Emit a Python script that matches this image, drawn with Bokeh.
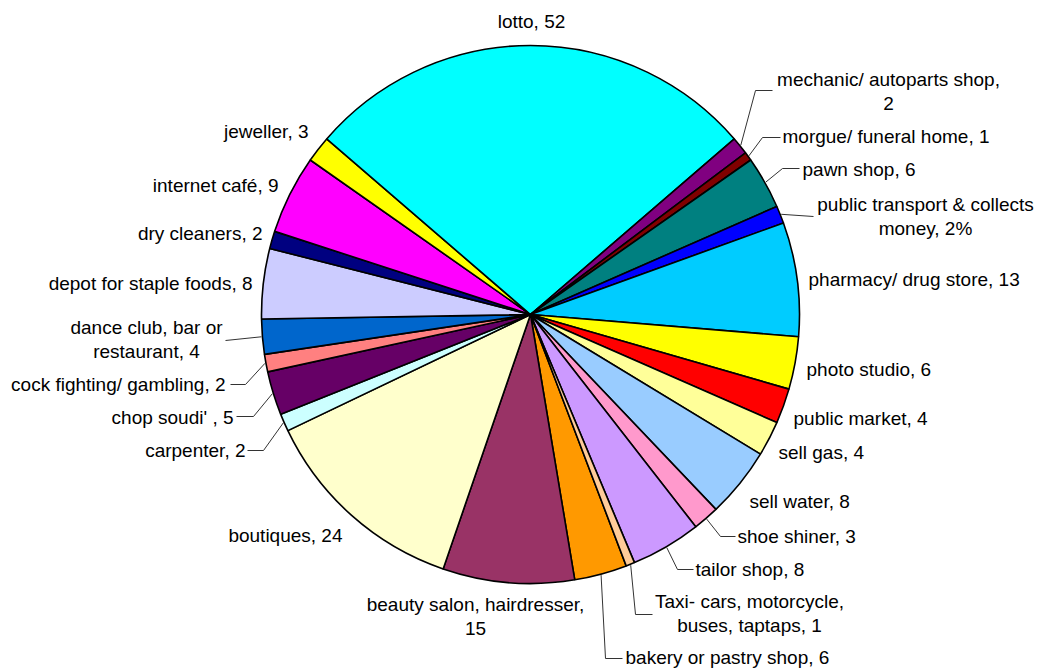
import math
from bokeh.plotting import figure
from bokeh.models import Range1d, ColumnDataSource
from bokeh.core.properties import value
from bokeh.embed import file_html
from bokeh.resources import INLINE

# ---------------- data ----------------
categories = [
    "bakery or pastry shop", "beauty salon, hairdresser", "boutiques", "carpenter",
    "chop soudi' ", "cock fighting/ gambling", "dance club, bar or restaurant",
    "depot for staple foods", "dry cleaners", "internet café", "jeweller", "lotto",
    "mechanic/ autoparts shop", "morgue/ funeral home", "pawn shop",
    "public transport & collects money", "pharmacy/ drug store", "photo studio",
    "public market", "sell gas", "sell water", "shoe shiner", "tailor shop",
    "Taxi- cars, motorcycle, buses, taptaps",
]
values = [6, 15, 24, 2, 5, 2, 4, 8, 2, 9, 3, 52, 2, 1, 6, 2, 13, 6, 4, 4, 8, 3, 8, 1]
value_suffix = {"public transport & collects money": "%"}
colors = [
    "#FF9900", "#993366", "#FFFFCC", "#CCFFFF", "#660066", "#FF8080", "#0066CC",
    "#CCCCFF", "#000080", "#FF00FF", "#FFFF00", "#00FFFF", "#800080", "#800000",
    "#008080", "#0000FF", "#00CCFF", "#FFFF00", "#FF0000", "#FFFF99", "#99CCFF",
    "#FF99CC", "#CC99FF", "#FFCC99",
]

# ---------------- layout (pixel coordinates, y downward) ----------------
W, H = 1038, 671
CX, CY, R = 530, 314, 269
FIRST_SLICE_ANGLE = 159.16   # degrees clockwise from 12 o'clock
FONT = "Liberation Sans"
FS = "19px"
LINE_GAP = 23.5

# category -> (align, x, y_center, words on first line (0 = single line), leader points)
label_layout = {
    "lotto": ("center", 531, 21, 0, None),
    "mechanic/ autoparts shop": ("center", 888, 91, 3, [(755, 90), (772, 90)]),
    "morgue/ funeral home": ("left", 782, 136, 0, [(762, 137), (780, 137)]),
    "pawn shop": ("left", 802, 169, 0, [(782, 168), (799, 168)]),
    "public transport & collects money": ("center", 925, 216, 4, [(813, 216)]),
    "pharmacy/ drug store": ("left", 808, 279, 0, None),
    "photo studio": ("left", 806, 369, 0, None),
    "public market": ("left", 793, 418, 0, None),
    "sell gas": ("left", 778, 452, 0, None),
    "sell water": ("left", 749, 501, 0, None),
    "shoe shiner": ("left", 737, 536, 0, [(720, 536), (735, 536)]),
    "tailor shop": ("left", 695, 569, 0, [(677, 569), (693, 569)]),
    "Taxi- cars, motorcycle, buses, taptaps": ("center", 749, 613, 3, [(635, 614), (652, 614)]),
    "bakery or pastry shop": ("left", 625, 657, 0, [(605, 658), (622, 658)]),
    "beauty salon, hairdresser": ("center", 475, 616, 3, None),
    "boutiques": ("right", 342, 535, 0, None),
    "carpenter": ("right", 245, 450, 0, [(263, 450), (247, 450)]),
    "chop soudi' ": ("right", 233, 417, 0, [(253, 416), (236, 416)]),
    "cock fighting/ gambling": ("right", 225, 384, 0, [(245, 384), (230, 384)]),
    "dance club, bar or restaurant": ("center", 146, 339, 4, [(225, 340)]),
    "depot for staple foods": ("right", 252, 283, 0, None),
    "dry cleaners": ("right", 262, 233, 0, None),
    "internet café": ("right", 278, 185, 0, None),
    "jeweller": ("right", 308, 131, 0, None),
}


def Y(py):
    return H - py


total = float(sum(values))
starts, ends, mids = [], [], []
acc = FIRST_SLICE_ANGLE
for v in values:
    a0 = acc
    a1 = acc + v / total * 360.0
    starts.append(a0)
    ends.append(a1)
    mids.append((a0 + a1) / 2)
    acc = a1

# convert clockwise-from-top to bokeh (anticlockwise from +x) angles
wedge_start = [math.radians(90 - e) for e in ends]
wedge_end = [math.radians(90 - s) for s in starts]

p = figure(width=W, height=H, x_range=Range1d(0, W), y_range=Range1d(0, H),
           output_backend="svg", toolbar_location=None, min_border=0,
           outline_line_color=None, background_fill_color="white",
           border_fill_color="white")
p.axis.visible = False
p.grid.visible = False

src = ColumnDataSource(dict(cat=categories, val=values, color=colors,
                            sa=wedge_start, ea=wedge_end))
p.wedge(x=CX, y=Y(CY), radius=R, start_angle="sa", end_angle="ea",
        fill_color="color", line_color="black", line_width=1.6, source=src)

# labels and leader lines
groups = {"left": dict(x=[], y=[], t=[]), "right": dict(x=[], y=[], t=[]),
          "center": dict(x=[], y=[], t=[])}
lx, ly = [], []
for cat, v, m in zip(categories, values, mids):
    align, x, yc, nfirst, leader = label_layout[cat]
    text = f"{cat}, {v}{value_suffix.get(cat, '')}".replace("  ", " ")
    if cat == "chop soudi' ":
        text = f"{cat}, {v}"
    if nfirst:
        words = text.split(" ")
        lines = [" ".join(words[:nfirst]), " ".join(words[nfirst:])]
    else:
        lines = [text]
    n = len(lines)
    for i, ln in enumerate(lines):
        yy = yc + (i - (n - 1) / 2) * LINE_GAP
        groups[align]["x"].append(x)
        groups[align]["y"].append(Y(yy))
        groups[align]["t"].append(ln)
    if leader:
        sx = CX + (R + 1) * math.sin(math.radians(m))
        sy = CY - (R + 1) * math.cos(math.radians(m))
        pts = [(sx, sy)] + leader
        lx.append([pt[0] for pt in pts])
        ly.append([Y(pt[1]) for pt in pts])

p.multi_line(xs=lx, ys=ly, line_color="#333333", line_width=1)

for align, g in groups.items():
    if not g["t"]:
        continue
    p.text(x=g["x"], y=g["y"], text=g["t"], text_align=align,
           text_baseline="middle", text_font=value(FONT), text_font_size=FS,
           text_color="black")

open("out.html", "w").write(file_html(p, INLINE))
